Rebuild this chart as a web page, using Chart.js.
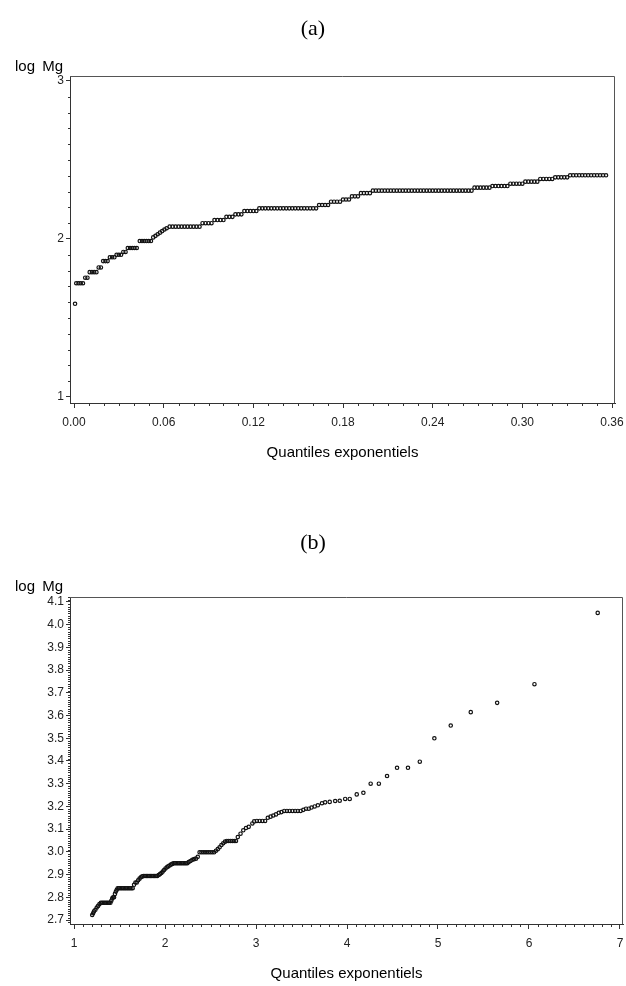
<!DOCTYPE html>
<html><head><meta charset="utf-8">
<script src="https://cdn.jsdelivr.net/npm/chart.js@4/dist/chart.umd.min.js"></script>
<style>
body{margin:0;background:#fff;width:626px;height:986px;position:relative;overflow:hidden}
canvas{position:absolute;left:0}
.lbl{position:absolute;left:0;width:626px;text-align:center;font-family:"Liberation Serif","Times New Roman",serif;font-size:22px;line-height:24px;color:#000}
.ylab{position:absolute;left:15px;font-family:"Liberation Sans",Arial,sans-serif;font-size:15px;line-height:16px;color:#000;word-spacing:3px;white-space:pre}
</style></head><body>
<canvas id="ca" width="626" height="490" style="top:0"></canvas>
<canvas id="cb" width="626" height="486" style="top:500px"></canvas>
<div class="lbl" style="top:16px">(a)</div>
<div class="ylab" style="top:58px">log Mg</div>
<div class="lbl" style="top:530px">(b)</div>
<div class="ylab" style="top:578px">log Mg</div>
<script>
// ---- Chart (a) data: log Mg levels and the exponential quantiles plotted at each level
const levelsA = [1.59, 1.72, 1.755, 1.79, 1.82, 1.86, 1.884, 1.90, 1.918, 1.943, 1.987,
  2.01, 2.02, 2.03, 2.04, 2.05, 2.06, 2.068, 2.078, 2.10, 2.12, 2.14, 2.156, 2.177, 2.194,
  2.215, 2.236, 2.25, 2.27, 2.29, 2.306, 2.325, 2.335, 2.35, 2.363, 2.38, 2.39, 2.403];
const quantilesA = [
  [0.0007],
  [0.0015, 0.003, 0.0045, 0.006],
  [0.0075, 0.009],
  [0.0105, 0.012, 0.0135, 0.015],
  [0.0165, 0.018],
  [0.0195, 0.021, 0.0225],
  [0.024, 0.0255, 0.027],
  [0.0285, 0.030, 0.0315],
  [0.033, 0.0345],
  [0.036, 0.0375, 0.039, 0.0405, 0.042],
  [0.044, 0.0455, 0.047, 0.0485, 0.050, 0.0515],
  [0.053], [0.0545], [0.056], [0.0575], [0.059], [0.0605], [0.062],
  [0.064, 0.066, 0.068, 0.070, 0.072, 0.074, 0.076, 0.078, 0.080, 0.082, 0.084],
  [0.086, 0.088, 0.090, 0.092],
  [0.094, 0.096, 0.098, 0.100],
  [0.102, 0.104, 0.106],
  [0.108, 0.110, 0.112],
  [0.114, 0.116, 0.118, 0.120, 0.122],
  [0.124, 0.126, 0.128, 0.130, 0.132, 0.134, 0.136, 0.138, 0.140, 0.142, 0.144, 0.146, 0.148, 0.150, 0.152, 0.154, 0.156, 0.158, 0.160, 0.162],
  [0.164, 0.166, 0.168, 0.170],
  [0.172, 0.174, 0.176, 0.178],
  [0.180, 0.182, 0.184],
  [0.186, 0.188, 0.190],
  [0.192, 0.194, 0.196, 0.198],
  [0.200, 0.202, 0.204, 0.206, 0.208, 0.210, 0.212, 0.214, 0.216, 0.218, 0.220, 0.222, 0.224, 0.226, 0.228, 0.230, 0.232, 0.234, 0.236, 0.238, 0.240, 0.242, 0.244, 0.246, 0.248, 0.250, 0.252, 0.254, 0.256, 0.258, 0.260, 0.262, 0.264, 0.266],
  [0.268, 0.270, 0.272, 0.274, 0.276, 0.278],
  [0.280, 0.282, 0.284, 0.286, 0.288, 0.290],
  [0.292, 0.294, 0.296, 0.298, 0.300],
  [0.302, 0.304, 0.306, 0.308, 0.310],
  [0.312, 0.314, 0.316, 0.318, 0.320],
  [0.322, 0.324, 0.326, 0.328, 0.330],
  [0.332, 0.334, 0.336, 0.338, 0.340, 0.342, 0.344, 0.346, 0.348, 0.350, 0.352, 0.354, 0.356]
];
const xTicksA = [0, 0.06, 0.12, 0.18, 0.24, 0.30, 0.36];
const xTickLabelsA = ['0.00', '0.06', '0.12', '0.18', '0.24', '0.30', '0.36'];
const yTicksA = [1, 2, 3];
const yTickLabelsA = ['1', '2', '3'];

// ---- Chart (b) data
const levelsB = [2.722, 2.73, 2.738, 2.745, 2.755, 2.762, 2.77, 2.776, 2.785, 2.795, 2.80, 2.815, 2.825, 2.833, 2.84,
  2.855, 2.865, 2.875, 2.882, 2.888, 2.892, 2.894,
  2.898, 2.902, 2.907, 2.913, 2.92, 2.927, 2.932, 2.936, 2.94, 2.944, 2.947, 2.95,
  2.955, 2.96, 2.965, 2.968, 2.97, 2.978, 2.998,
  3.005, 3.012, 3.02, 3.03, 3.038, 3.045, 3.048,
  3.065, 3.08, 3.095, 3.105, 3.11, 3.125, 3.134, 3.136,
  3.15, 3.155, 3.16, 3.165, 3.172, 3.175, 3.18,
  3.185, 3.19, 3.195, 3.20, 3.205, 3.214, 3.218, 3.22, 3.224, 3.225, 3.233,
  3.253, 3.26, 3.30, 3.334, 3.37, 3.397, 3.50, 3.556, 3.615, 3.656, 3.738, 4.052];
const quantilesB = [
  [1.20], [1.21], [1.22], [1.235], [1.25], [1.265], [1.28],
  [1.295, 1.31, 1.325, 1.34, 1.355, 1.37, 1.385, 1.40],
  [1.41], [1.42], [1.43, 1.44], [1.45], [1.46], [1.47],
  [1.48, 1.495, 1.51, 1.525, 1.54, 1.555, 1.57, 1.585, 1.60, 1.615, 1.63, 1.645],
  [1.66], [1.675, 1.69], [1.705], [1.72], [1.735], [1.75],
  [1.765, 1.78, 1.795, 1.81, 1.825, 1.84, 1.855, 1.87, 1.885, 1.90, 1.915],
  [1.93], [1.945], [1.96], [1.975], [1.99], [2.005], [2.02], [2.035], [2.05], [2.065], [2.08],
  [2.095, 2.11, 2.125, 2.14, 2.155, 2.17, 2.185, 2.20, 2.215, 2.23, 2.245],
  [2.26], [2.28], [2.30], [2.32], [2.34], [2.36],
  [2.38, 2.40, 2.42, 2.44, 2.46, 2.48, 2.50, 2.52, 2.54],
  [2.56], [2.58], [2.60], [2.62], [2.64], [2.66],
  [2.68, 2.70, 2.72, 2.74, 2.76, 2.78],
  [2.80], [2.83], [2.86], [2.89], [2.92], [2.96], [2.98],
  [3.01, 3.04, 3.07, 3.10],
  [3.13], [3.16], [3.19], [3.22], [3.25], [3.28],
  [3.31, 3.34, 3.37, 3.40, 3.43, 3.46, 3.49],
  [3.52], [3.55, 3.58], [3.61], [3.645], [3.68], [3.725], [3.76], [3.81], [3.87], [3.92], [3.98, 4.03],
  [4.107], [4.18], [4.26, 4.35], [4.44], [4.55, 4.67], [4.80], [4.96], [5.14], [5.36], [5.65], [6.06], [6.755]
];
const xTicksB = [1, 2, 3, 4, 5, 6, 7];
const xTickLabelsB = ['1', '2', '3', '4', '5', '6', '7'];
const yTicksB = [2.7, 2.8, 2.9, 3.0, 3.1, 3.2, 3.3, 3.4, 3.5, 3.6, 3.7, 3.8, 3.9, 4.0, 4.1];
const yTickLabelsB = ['2.7', '2.8', '2.9', '3.0', '3.1', '3.2', '3.3', '3.4', '3.5', '3.6', '3.7', '3.8', '3.9', '4.0', '4.1'];

function toPoints(levels, groups) {
  const pts = [];
  levels.forEach((lv, i) => groups[i].forEach(q => pts.push({x: q, y: lv})));
  return pts;
}

const FONT = '"Liberation Sans", Arial, sans-serif';
Chart.defaults.font.family = FONT;

const frameAndMinor = {
  id: 'frameAndMinor',
  afterDraw(chart, args, o) {
    const ctx = chart.ctx, a = chart.chartArea, xs = chart.scales.x, ys = chart.scales.y;
    ctx.save();
    ctx.strokeStyle = '#333';
    ctx.lineWidth = 1;
    ctx.beginPath();
    const isMajor = (v, list) => list.some(m => Math.abs(m - v) < 1e-9);
    for (let k = Math.ceil((xs.min) / o.xStep); k * o.xStep <= xs.max + 1e-9; k++) {
      const v = k * o.xStep;
      if (isMajor(+v.toFixed(6), o.xMajor)) continue;
      const px = Math.round(xs.getPixelForValue(v)) + 0.5;
      ctx.moveTo(px, a.bottom); ctx.lineTo(px, a.bottom + o.xLen);
    }
    for (let k = Math.ceil((ys.min) / o.yStep); k * o.yStep <= ys.max + 1e-9; k++) {
      const v = k * o.yStep;
      if (isMajor(+v.toFixed(6), o.yMajor)) continue;
      const py = Math.round(ys.getPixelForValue(v)) + 0.5;
      ctx.moveTo(a.left, py); ctx.lineTo(a.left - o.yLen, py);
    }
    ctx.stroke();
    ctx.strokeStyle = '#555';
    ctx.beginPath();
    ctx.moveTo(Math.round(a.left), Math.round(a.top) + 0.5);
    ctx.lineTo(Math.round(a.right) - 0.5, Math.round(a.top) + 0.5);
    ctx.lineTo(Math.round(a.right) - 0.5, Math.round(a.bottom));
    ctx.stroke();
    ctx.restore();
  }
};

function makeChart(id, pts, cfg) {
  return new Chart(document.getElementById(id), {
    type: 'scatter',
    data: { datasets: [{ data: pts, pointStyle: 'circle', pointRadius: 1.7, pointBorderWidth: 1.2,
      borderColor: '#111', backgroundColor: 'rgba(0,0,0,0)', pointHoverRadius: 1.7 }] },
    options: {
      responsive: false, animation: false, events: [],
      layout: { padding: cfg.padding },
      plugins: { legend: { display: false }, tooltip: { enabled: false }, title: { display: false },
        frameAndMinor: cfg.minor },
      scales: {
        x: {
          type: 'linear', min: cfg.xMin, max: cfg.xMax,
          afterBuildTicks: s => { s.ticks = cfg.xTicks.map(v => ({value: v})); },
          afterFit: s => { s.height = 59; s.paddingLeft = 0; s.paddingRight = 0; },
          ticks: { callback: (v, i) => cfg.xLabels[i], autoSkip: false, maxRotation: 0, padding: 7,
            color: '#222', font: { size: 12 } },
          grid: { drawOnChartArea: false, drawTicks: true, tickLength: 5, tickColor: '#333' },
          border: { display: true, color: '#333', width: 1 },
          title: { display: true, text: 'Quantiles exponentiels', color: '#000', font: { size: 15 },
            padding: { top: 0, bottom: 0 } }
        },
        y: {
          type: 'linear', min: cfg.yMin, max: cfg.yMax,
          afterBuildTicks: s => { s.ticks = cfg.yTicks.map(v => ({value: v})); },
          afterFit: s => { s.width = 70; s.paddingTop = 0; s.paddingBottom = 0; },
          ticks: { callback: (v, i) => cfg.yLabels[i], autoSkip: false, padding: 2,
            color: '#222', font: { size: 12 } },
          grid: { drawOnChartArea: false, drawTicks: true, tickLength: 4, tickColor: '#333' },
          border: { display: true, color: '#333', width: 1 }
        }
      }
    },
    plugins: [frameAndMinor]
  });
}

makeChart('ca', toPoints(levelsA, quantilesA), {
  padding: { top: 76, left: 0, right: 11, bottom: 28 },
  xMin: -0.00268, xMax: 0.362, yMin: 0.962, yMax: 3.0316,
  xTicks: xTicksA, xLabels: xTickLabelsA, yTicks: yTicksA, yLabels: yTickLabelsA,
  minor: { xStep: 0.01, yStep: 0.1, xLen: 3, yLen: 2, xMajor: xTicksA, yMajor: yTicksA }
});

makeChart('cb', toPoints(levelsB, quantilesB), {
  padding: { top: 97, left: 0, right: 3, bottom: 3 },
  xMin: 0.956, xMax: 7.033, yMin: 2.6824, yMax: 4.122,
  xTicks: xTicksB, xLabels: xTickLabelsB, yTicks: yTicksB, yLabels: yTickLabelsB,
  minor: { xStep: 0.1, yStep: 0.01, xLen: 3, yLen: 2, xMajor: xTicksB, yMajor: yTicksB }
});
</script>
</body></html>
